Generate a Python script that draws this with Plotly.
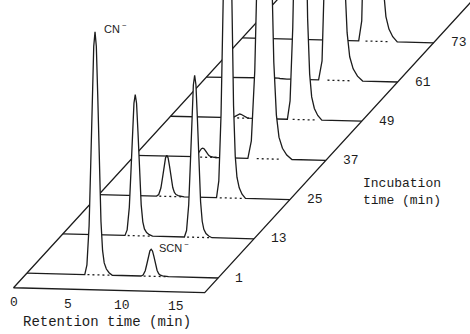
import plotly.graph_objects as go

# ---------------- data ----------------
incubation_min = [1, 13, 25, 37, 49, 61, 73]          # incubation time of each chromatogram
cn_rt = [6.3, 6.7, 6.3, 6.3, 6.4, 6.4, 6.4]            # CN- retention time (min)
cn_height = [243, 141, 41, 9, 4, 1, 0]                 # CN- peak height (arb.)
cn_width = [1.0, 1.0, 1.0, 1.0, 1.0, 1.0, 1.0]         # relative peak width
scn_rt = [11.5, 12.2, 11.9, 12.0, 12.0, 11.9, 12.1]    # SCN- retention time (min)
scn_height = [27, 162, 420, 440, 460, 480, 500]        # SCN- peak height (arb.)
scn_width = [1.0, 1.0, 1.05, 1.6, 1.25, 1.6, 1.4]      # relative peak width

# shape of one peak (offset from apex in min, fraction of peak height)
peak_dt = [-0.95, -0.75, -0.55, -0.4, -0.25, -0.12, 0.0, 0.12, 0.25, 0.4, 0.55, 0.7, 0.85, 1.05, 1.3, 1.6]
peak_rel = [0.0, 0.04, 0.2, 0.45, 0.75, 0.94, 1.0, 0.94, 0.74, 0.45, 0.22, 0.1, 0.05, 0.025, 0.01, 0.0]

rt_ticks = [0, 5, 10, 15]
rt_span = [0.0, 17.7]
plane_incubation = [-3.5, 90]
dotted_span = [-0.7, 1.5]

# ---------------- oblique projection (waterfall geometry) ----------------
X0, Y0 = 24.0, 276.3
PX_PER_MIN = 10.8
DX_INC = 35.9 / 12
DY_INC = 39.2 / 12
TILT = 0.026


def proj(rt, inc, h=0.0):
    x = X0 + rt * PX_PER_MIN + inc * DX_INC
    y = Y0 - inc * DY_INC + TILT * rt * PX_PER_MIN - h
    return x, y


INK = "#1c1c1c"
LW = 1.3
fig = go.Figure()

# plane outline: diagonals + front edge
corners = [(rt_span[0], plane_incubation[1]), (rt_span[0], plane_incubation[0]),
           (rt_span[1], plane_incubation[0]), (rt_span[1], plane_incubation[1])]
px, py = zip(*[proj(r, i) for r, i in corners])
fig.add_trace(go.Scatter(x=px, y=py, mode="lines", line=dict(color=INK, width=LW),
                         hoverinfo="skip"))

# chromatograms, back to front
for k in reversed(range(len(incubation_min))):
    inc = incubation_min[k]
    peaks = sorted([(cn_rt[k], cn_height[k], cn_width[k]),
                    (scn_rt[k], scn_height[k], scn_width[k])])
    pts = [(rt_span[0], 0.0)]
    for rt, H, w in peaks:
        if H <= 0:
            continue
        for dt, r in zip(peak_dt, peak_rel):
            pts.append((rt + dt * w, H * r))
    pts.append((rt_span[1], 0.0))
    xs, ys = zip(*[proj(r, inc, h) for r, h in pts])
    # white fill hides what is behind
    fig.add_trace(go.Scatter(x=xs, y=ys, mode="lines", fill="toself", fillcolor="white",
                             line=dict(width=0, color="rgba(0,0,0,0)"), hoverinfo="skip"))
    fig.add_trace(go.Scatter(x=xs, y=ys, mode="lines", line=dict(color=INK, width=LW),
                             hoverinfo="skip"))
    for rt, H, w in peaks:
        if H >= 3:
            a = proj(rt + dotted_span[0], inc)
            b = proj(rt + dotted_span[1], inc)
            fig.add_trace(go.Scatter(x=[a[0], b[0]], y=[a[1], b[1]], mode="lines",
                                     line=dict(color=INK, width=LW, dash="2px,3px"),
                                     hoverinfo="skip"))

MONO = "Liberation Mono, Courier New, monospace"
SANS = "Liberation Sans, Arial, sans-serif"
ann = []
# retention-time tick labels along the front edge
for t in rt_ticks:
    x, y = proj(t, plane_incubation[0])
    ann.append(dict(x=x, y=y, text=str(t), showarrow=False, xanchor="center",
                    yanchor="middle", yshift=-15, font=dict(family=MONO, size=13, color=INK)))
xm, ym = proj(sum(rt_span) / 2, plane_incubation[0])
ann.append(dict(x=xm - 2, y=ym, text="Retention time (min)", showarrow=False, xanchor="center",
                yanchor="middle", yshift=-32, font=dict(family=MONO, size=14, color=INK)))
# incubation labels at right corners
for inc in incubation_min:
    x, y = proj(rt_span[1], inc)
    ann.append(dict(x=x, y=y, text=str(inc), showarrow=False, xanchor="left",
                    yanchor="middle", xshift=15, font=dict(family=MONO, size=13, color=INK)))
xi, yi = proj(rt_span[1], 31)
ann.append(dict(x=xi, y=yi, text="Incubation<br>time (min)", showarrow=False, xanchor="left",
                yanchor="middle", align="left", xshift=53, yshift=-12,
                font=dict(family=MONO, size=13, color=INK)))
# ion labels
xc, yc = proj(cn_rt[0], incubation_min[0], cn_height[0])
ann.append(dict(x=xc, y=yc, text="CN<sup> −</sup>", showarrow=False, xanchor="left",
                yanchor="middle", xshift=7, yshift=4, font=dict(family=SANS, size=11, color=INK)))
xs_, ys_ = proj(scn_rt[0], incubation_min[0], scn_height[0])
ann.append(dict(x=xs_, y=ys_, text="SCN<sup> −</sup>", showarrow=False, xanchor="left",
                yanchor="middle", xshift=6, yshift=2, font=dict(family=SANS, size=11, color=INK)))

fig.update_layout(
    width=470, height=334, margin=dict(l=0, r=0, t=0, b=0),
    paper_bgcolor="white", plot_bgcolor="white", showlegend=False,
    xaxis=dict(range=[0, 470], visible=False, fixedrange=True),
    yaxis=dict(range=[334, 0], visible=False, fixedrange=True),
    annotations=ann,
)
fig.write_html("out.html")
